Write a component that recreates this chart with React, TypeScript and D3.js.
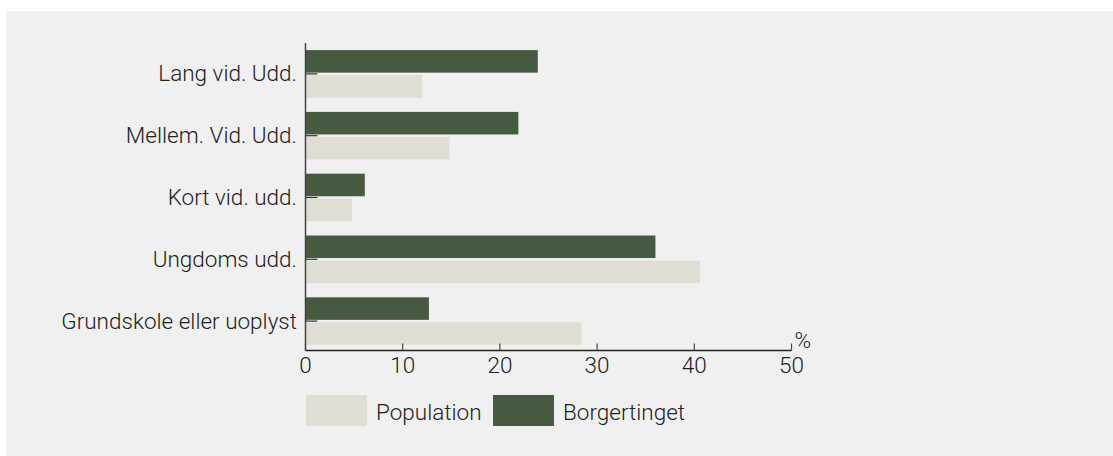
import React from "react";
import * as d3 from "d3";

const categories = [
  "Lang vid. Udd.",
  "Mellem. Vid. Udd.",
  "Kort vid. udd.",
  "Ungdoms udd.",
  "Grundskole eller uoplyst",
];
const borgertinget = [23.9, 21.9, 6.1, 36.0, 12.7];
const population = [12.0, 14.8, 4.8, 40.6, 28.4];
const xTicks = [0, 10, 20, 30, 40, 50];
const seriesNames = ["Borgertinget", "Population"];
const legendItems = ["Population", "Borgertinget"];

const W = 1113;
const H = 456;
const DARK = "#465a41";
const LIGHT = "#e0ddd2";
const FONT = "Roboto, 'Noto Sans', sans-serif";
const FS = 22.5;

export default function App() {
  const x = d3.scaleLinear().domain([0, 50]).range([305.5, 791.5]);
  const y = d3.scaleBand<string>().domain(categories).range([43, 352]).paddingInner(0.23).paddingOuter(0.115);
  const inner = d3.scaleBand<string>().domain(seriesNames).range([0, y.bandwidth()]).paddingInner(0.1);
  const colorOf = d3.scaleOrdinal<string, string>().domain(seriesNames).range([DARK, LIGHT]);
  const valuesOf: Record<string, number[]> = { Borgertinget: borgertinget, Population: population };
  const axisY = 350.5;

  return (
    <div style={{ position: "absolute", left: 0, top: 0 }}>
      <svg width={W} height={H} style={{ display: "block" }} fontFamily={FONT} fontWeight={300}>
        <rect x={6} y={11} width={W - 6} height={H - 11} fill="#f0f0f0" />

        {categories.map((c, i) => (
          <g key={c} transform={`translate(0,${y(c)})`}>
            {seriesNames.map((s) => (
              <rect
                key={s}
                x={x(0)}
                y={inner(s)}
                width={x(valuesOf[s][i]) - x(0)}
                height={inner.bandwidth()}
                fill={colorOf(s)}
              />
            ))}
          </g>
        ))}

        {/* y axis */}
        <line x1={x(0)} x2={x(0)} y1={43} y2={axisY} stroke="#444" strokeWidth={1.5} />
        {categories.map((c) => {
          const cy = (y(c) ?? 0) + y.bandwidth() / 2;
          return (
            <g key={c}>
              <line x1={x(0)} x2={x(0) + 12} y1={cy} y2={cy} stroke="#333" strokeWidth={1.2} />
              <text x={297} y={cy} dy="0.33em" textAnchor="end" fontSize={FS} fill="#222">
                {c}
              </text>
            </g>
          );
        })}

        {/* x axis */}
        <line x1={x(0)} x2={x(50)} y1={axisY} y2={axisY} stroke="#222" strokeWidth={1.5} />
        {xTicks.map((t) => (
          <g key={t}>
            <line x1={x(t)} x2={x(t)} y1={axisY} y2={axisY - 7} stroke="#444" strokeWidth={1.2} />
            <text x={x(t)} y={373} textAnchor="middle" fontSize={FS} fill="#222">
              {t}
            </text>
          </g>
        ))}
        <text x={x(50) + 3} y={348} fontSize={FS} fill="#222">
          %
        </text>

        {/* legend */}
        {legendItems.map((s, i) => {
          const lx = i === 0 ? 306 : 493;
          return (
            <g key={s}>
              <rect x={lx} y={395} width={61} height={31} fill={colorOf(s)} />
              <text x={lx + 70} y={420} fontSize={FS} fill="#222">
                {s}
              </text>
            </g>
          );
        })}
      </svg>
    </div>
  );
}
